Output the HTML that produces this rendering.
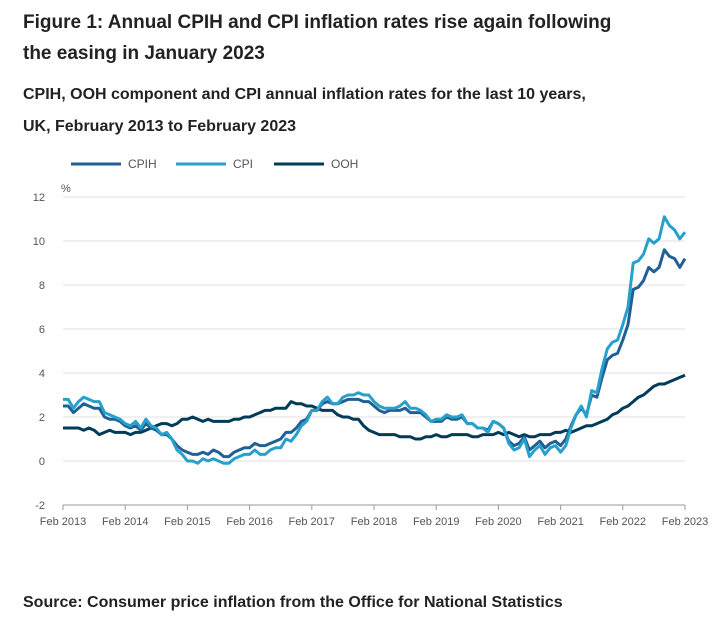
<!DOCTYPE html>
<html><head><meta charset="utf-8"><style>
body{margin:0;background:#fff;font-family:"Liberation Sans",sans-serif;color:#222;}
.t{position:absolute;left:23px;font-weight:bold;}
</style></head><body>
<div style="position:relative;width:721px;height:622px;overflow:hidden">
<div class="t" style="top:7px;font-size:19px;line-height:31px;width:600px">Figure 1: Annual CPIH and CPI inflation rates rise again following the easing in January 2023</div>
<div class="t" style="top:79px;font-size:16px;line-height:32px;width:575px">CPIH, OOH component and CPI annual inflation rates for the last 10 years, UK, February 2013 to February 2023</div>
<div class="t" style="top:594px;font-size:16px">Source: Consumer price inflation from the Office for National Statistics</div>
<svg id="c" width="721" height="622" style="position:absolute;left:0;top:0"></svg>
</div>
<script>
const seriesNames=["CPIH","CPI","OOH"];
const colors=["#206095","#27a0cc","#003c57"];
const cpih=[2.5,2.5,2.2,2.4,2.6,2.5,2.4,2.4,2.0,1.9,1.9,1.8,1.6,1.5,1.6,1.4,1.7,1.5,1.4,1.2,1.2,1.0,0.7,0.5,0.4,0.3,0.3,0.4,0.3,0.5,0.4,0.2,0.2,0.4,0.5,0.6,0.6,0.8,0.7,0.7,0.8,0.9,1.0,1.3,1.3,1.5,1.8,1.9,2.3,2.3,2.6,2.7,2.6,2.6,2.7,2.8,2.8,2.8,2.7,2.7,2.5,2.3,2.2,2.3,2.3,2.3,2.4,2.2,2.2,2.2,2.0,1.8,1.8,1.8,2.0,1.9,1.9,2.0,1.7,1.7,1.5,1.5,1.4,1.8,1.7,1.5,0.9,0.7,0.8,1.1,0.5,0.7,0.9,0.6,0.8,0.9,0.7,1.0,1.6,2.1,2.4,2.1,3.0,2.9,3.8,4.6,4.8,4.9,5.5,6.2,7.8,7.9,8.2,8.8,8.6,8.8,9.6,9.3,9.2,8.8,9.2];
const cpi=[2.8,2.8,2.4,2.7,2.9,2.8,2.7,2.7,2.2,2.1,2.0,1.9,1.7,1.6,1.8,1.5,1.9,1.6,1.5,1.2,1.3,1.0,0.5,0.3,0.0,0.0,-0.1,0.1,0.0,0.1,0.0,-0.1,-0.1,0.1,0.2,0.3,0.3,0.5,0.3,0.3,0.5,0.6,0.6,1.0,0.9,1.2,1.6,1.8,2.3,2.3,2.7,2.9,2.6,2.6,2.9,3.0,3.0,3.1,3.0,3.0,2.7,2.5,2.4,2.4,2.4,2.5,2.7,2.4,2.4,2.3,2.1,1.8,1.9,1.9,2.1,2.0,2.0,2.1,1.7,1.7,1.5,1.5,1.3,1.8,1.7,1.5,0.8,0.5,0.6,1.0,0.2,0.5,0.7,0.3,0.6,0.7,0.4,0.7,1.5,2.1,2.5,2.0,3.2,3.1,4.2,5.1,5.4,5.5,6.2,7.0,9.0,9.1,9.4,10.1,9.9,10.1,11.1,10.7,10.5,10.1,10.4];
const ooh=[1.5,1.5,1.5,1.5,1.4,1.5,1.4,1.2,1.3,1.4,1.3,1.3,1.3,1.2,1.3,1.3,1.4,1.5,1.6,1.7,1.7,1.6,1.7,1.9,1.9,2.0,1.9,1.8,1.9,1.8,1.8,1.8,1.8,1.9,1.9,2.0,2.0,2.1,2.2,2.3,2.3,2.4,2.4,2.4,2.7,2.6,2.6,2.5,2.5,2.4,2.3,2.3,2.3,2.1,2.0,2.0,1.9,1.9,1.6,1.4,1.3,1.2,1.2,1.2,1.2,1.1,1.1,1.1,1.0,1.0,1.1,1.1,1.2,1.1,1.1,1.2,1.2,1.2,1.2,1.1,1.1,1.2,1.2,1.2,1.3,1.2,1.3,1.2,1.1,1.2,1.1,1.1,1.2,1.2,1.2,1.3,1.3,1.4,1.3,1.4,1.5,1.6,1.6,1.7,1.8,1.9,2.1,2.2,2.4,2.5,2.7,2.9,3.0,3.2,3.4,3.5,3.5,3.6,3.7,3.8,3.9];
const yTicks=[-2,0,2,4,6,8,10,12];
const xTickLabels=["Feb 2013","Feb 2014","Feb 2015","Feb 2016","Feb 2017","Feb 2018","Feb 2019","Feb 2020","Feb 2021","Feb 2022","Feb 2023"];
const NS="http://www.w3.org/2000/svg",svg=document.getElementById('c');
const x0=63,x1=685,n=cpi.length;
const X=i=>x0+(x1-x0)*i/(n-1);
const Y=v=>461-22*v;
function mk(t,a){const e=document.createElementNS(NS,t);for(const k in a)e.setAttribute(k,a[k]);svg.appendChild(e);return e;}
yTicks.forEach(v=>{
 const l=mk('line',{x1:x0,x2:x1,y1:Y(v),y2:Y(v),stroke:v===-2?'#999':'#e0e0e0','stroke-width':1});
 
 
 const t=mk('text',{x:45,y:Y(v)+4,'font-size':11,fill:'#555','text-anchor':'end','font-family':'Liberation Sans'});
 t.textContent=v;
 
 
});
const pu=mk('text',{x:61,y:192,'font-size':11,fill:'#555','font-family':'Liberation Sans'});pu.textContent='%';


xTickLabels.forEach((s,k)=>{
 const xx=X(k*12);
 const l=mk('line',{x1:xx,x2:xx,y1:505,y2:510,stroke:'#999'});
 
 
 const t=mk('text',{x:xx,y:525,'font-size':11,fill:'#555','text-anchor':'middle','font-family':'Liberation Sans'});
 t.textContent=s;
 
 
});
const data=[cpih,cpi,ooh];
[2,0,1].forEach(si=>{
 const d=data[si].map((v,i)=>(i?'L':'M')+X(i).toFixed(1)+','+Y(v).toFixed(1)).join('');
 const p=mk('path',{d:d,fill:'none',stroke:colors[si],'stroke-width':3,'stroke-linejoin':'round'});
 
 
});
const lx=[71,176,274];
seriesNames.forEach((s,i)=>{
 const l=mk('line',{x1:lx[i],x2:lx[i]+50,y1:164,y2:164,stroke:colors[i],'stroke-width':3});
 
 
 const t=mk('text',{x:lx[i]+57,y:168,'font-size':12,fill:'#555','font-family':'Liberation Sans'});
 t.textContent=s;
 
 
});
</script>
</body></html>
